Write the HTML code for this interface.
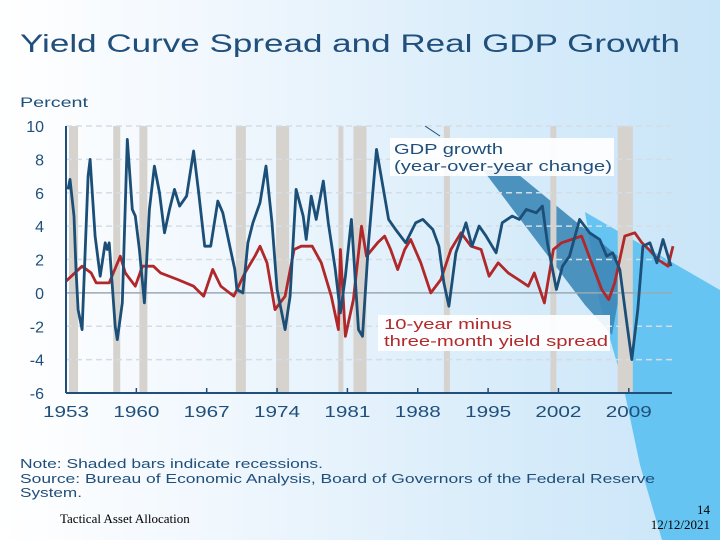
<!DOCTYPE html>
<html><head><meta charset="utf-8">
<style>
html,body{margin:0;padding:0}
body{width:720px;height:540px;overflow:hidden;background:linear-gradient(90deg,#ffffff 0%,#eef6fd 35%,#d8ecfa 70%,#c9e5f8 100%);font-family:"Liberation Sans",sans-serif;position:relative}
svg{position:absolute;left:0;top:0}
</style></head>
<body>
<svg id="chart" width="720" height="540">
  <polygon points="585,212 720,290 720,540 662,540 640,465 622,380 600,305" fill="#66c4f2"/>
  <polygon points="483,170 513,170 625,262 612,335 585,305" fill="#3d88b8" opacity="0.9"/>
  <text x="20" y="52" font-size="25" fill="#1f4f7a" textLength="660" lengthAdjust="spacingAndGlyphs">Yield Curve Spread and Real GDP Growth</text>
  <text x="20" y="107" font-size="14" fill="#1f4f7a" textLength="68" lengthAdjust="spacingAndGlyphs">Percent</text>
  <g id="rec"></g><g id="grid"></g><g id="lines"></g><g id="axes"></g>
  <rect x="390" y="138" width="224" height="38" fill="#fff" opacity="0.9"/>
  <text x="394" y="154" font-size="15" fill="#1f4f7a" textLength="109" lengthAdjust="spacingAndGlyphs">GDP growth</text>
  <text x="394" y="171" font-size="15" fill="#1f4f7a" textLength="218" lengthAdjust="spacingAndGlyphs">(year-over-year change)</text>
  <line x1="425" y1="126" x2="440" y2="136" stroke="#1f4f7a"/>
  <rect x="378" y="315" width="232" height="36" fill="#fff" opacity="0.9"/>
  <text x="384" y="329" font-size="15" fill="#b22a2a" textLength="128" lengthAdjust="spacingAndGlyphs">10-year minus</text>
  <text x="384" y="346" font-size="15" fill="#b22a2a" textLength="224" lengthAdjust="spacingAndGlyphs">three-month yield spread</text>
  <text x="20" y="468" font-size="12.5" fill="#1f4f7a" textLength="303" lengthAdjust="spacingAndGlyphs">Note: Shaded bars indicate recessions.</text>
  <text x="20" y="483" font-size="12.5" fill="#1f4f7a" textLength="635" lengthAdjust="spacingAndGlyphs">Source: Bureau of Economic Analysis, Board of Governors of the Federal Reserve</text>
  <text x="20" y="497" font-size="12.5" fill="#1f4f7a" textLength="62" lengthAdjust="spacingAndGlyphs">System.</text>
  <text x="60" y="523" font-size="13" font-family="Liberation Serif" fill="#000">Tactical Asset Allocation</text>
  <text x="710" y="514" font-size="13" font-family="Liberation Serif" fill="#000" text-anchor="end">14</text>
  <text x="710" y="529" font-size="13" font-family="Liberation Serif" fill="#000" text-anchor="end">12/12/2021</text>
</svg>
<script>
const yTicks=[10,8,6,4,2,0,-2,-4,-6];
const xTicks=[1953,1960,1967,1974,1981,1988,1995,2002,2009];
const recStart=[1953.3,1957.7,1960.3,1969.9,1973.9,1980.1,1981.6,1990.6,2001.2,2007.9];
const recEnd=[1954.2,1958.4,1961.1,1970.9,1975.2,1980.6,1982.9,1991.2,2001.8,2009.4];
const gdpYears=[1953.2,1953.4,1953.8,1954.0,1954.2,1954.6,1955.2,1955.4,1955.9,1956.4,1956.9,1957.1,1957.3,1957.9,1958.1,1958.6,1959.1,1959.6,1959.9,1960.3,1960.8,1961.3,1961.8,1962.3,1962.8,1963.3,1963.8,1964.3,1965.0,1965.7,1966.2,1966.8,1967.4,1968.1,1968.6,1969.3,1969.8,1970.0,1970.6,1971.1,1971.6,1972.3,1972.9,1973.5,1974.0,1974.8,1975.3,1975.9,1976.6,1976.9,1977.4,1977.9,1978.6,1979.1,1979.8,1980.3,1980.8,1981.4,1982.1,1982.5,1983.1,1983.9,1985.1,1985.8,1986.8,1987.8,1988.5,1989.5,1990.1,1990.6,1991.1,1991.8,1992.8,1993.4,1994.1,1994.8,1995.8,1996.4,1997.4,1998.1,1998.8,1999.8,2000.4,2000.9,2001.8,2002.4,2003.1,2004.1,2005.1,2006.1,2006.8,2007.4,2008.1,2008.8,2009.3,2009.9,2010.4,2011.1,2011.8,2012.4,2013.2];
const gdpValues=[6.2,6.8,4.6,1.4,-1.0,-2.2,7.0,8.0,3.4,1.0,3.0,2.6,3.0,-2.0,-2.8,-0.6,9.2,5.0,4.6,2.6,-0.6,5.0,7.6,6.0,3.6,5.0,6.2,5.2,5.8,8.5,6.0,2.8,2.8,5.5,4.8,2.8,1.4,0.2,0.0,3.0,4.2,5.4,7.6,4.2,0.2,-2.2,-0.2,6.2,4.6,3.2,5.8,4.4,6.7,4.2,1.4,-1.2,1.0,4.4,-2.2,-2.6,3.0,8.6,4.4,3.8,3.0,4.2,4.4,3.8,2.8,0.6,-0.8,2.4,4.2,2.8,4.0,3.4,2.4,4.2,4.6,4.4,5.0,4.8,5.2,3.0,0.2,1.6,2.2,4.4,3.6,3.2,2.2,2.4,1.4,-1.8,-4.0,-1.0,2.8,3.0,1.8,3.2,1.6];
const spreadYears=[1953.0,1954.6,1955.5,1956.0,1957.3,1958.4,1958.9,1959.9,1960.6,1961.7,1962.4,1964.1,1965.7,1966.7,1967.6,1968.4,1969.7,1970.8,1971.8,1972.3,1973.0,1973.8,1974.8,1975.7,1976.4,1977.5,1978.4,1979.4,1980.1,1980.3,1980.8,1981.6,1982.4,1982.9,1984.0,1984.7,1985.3,1986.0,1986.7,1987.3,1988.3,1989.3,1990.3,1991.3,1992.3,1993.3,1994.3,1995.1,1996.0,1997.0,1998.0,1999.0,1999.6,2000.6,2001.5,2002.3,2003.3,2004.3,2005.3,2006.3,2007.0,2007.6,2008.6,2009.6,2010.3,2011.0,2011.9,2012.9,2013.4];
const spreadValues=[0.7,1.6,1.2,0.6,0.6,2.2,1.2,0.4,1.6,1.6,1.2,0.8,0.4,-0.2,1.4,0.4,-0.2,1.2,2.2,2.8,1.8,-1.0,-0.2,2.6,2.8,2.8,1.8,-0.2,-2.2,2.6,-2.6,-0.4,4.0,2.2,3.0,3.4,2.6,1.4,2.6,3.2,1.8,0.0,0.8,2.6,3.6,2.8,2.6,1.0,1.8,1.2,0.8,0.4,1.2,-0.6,2.6,3.0,3.2,3.4,1.8,0.2,-0.4,0.6,3.4,3.6,3.0,2.6,2.0,1.6,2.8];
const NS='http://www.w3.org/2000/svg';
const X0=66,X1=672,Y0=126,Y1=393;
function xs(yr){return X0+(yr-1953)*10.05;}
function ys(v){return Y0+(10-v)*(Y1-Y0)/16;}
function mk(tag,attrs,parent){const e=document.createElementNS(NS,tag);for(const k in attrs)e.setAttribute(k,attrs[k]);parent.appendChild(e);return e;}
const rec=document.getElementById('rec'),grid=document.getElementById('grid'),lines=document.getElementById('lines'),axes=document.getElementById('axes');
recStart.forEach((s,i)=>{
  const r=mk('rect',{x:xs(s),y:Y0,width:Math.max(3,xs(recEnd[i])-xs(s)),height:Y1-Y0,fill:'#d6d3cf'},rec);
  
  
});
yTicks.forEach(v=>{
  if(v!==-6&&v!==0){
    const g=mk('line',{x1:X0,x2:X1,y1:ys(v),y2:ys(v),stroke:'#d4dde6','stroke-width':1.5,'stroke-dasharray':'6,4'},grid);
    
    
  }
  const t=mk('text',{x:44,y:ys(v)+6,'font-size':16,fill:'#1f4f7a','text-anchor':'end'},axes);
  t.textContent=v;
  
  
});
const z=mk('line',{x1:X0,x2:X1,y1:ys(0),y2:ys(0),stroke:'#9aa9b6','stroke-width':1.5},grid);


function path(xv,yv,color,name){
  const d=xv.map((x,i)=>(i?'L':'M')+xs(x).toFixed(1)+','+ys(yv[i]).toFixed(1)).join(' ');
  const p=mk('path',{d:d,fill:'none',stroke:color,'stroke-width':2.8,'stroke-linejoin':'round'},lines);
  
  
}
path(spreadYears,spreadValues,'#b0282a','spread-line');
path(gdpYears,gdpValues,'#1b4f78','gdp-line');
const ax=mk('line',{x1:X0,x2:X1,y1:Y1,y2:Y1,stroke:'#1f4f7a','stroke-width':2},axes);


const ay=mk('line',{x1:X0,x2:X0,y1:Y0,y2:Y1,stroke:'#1f4f7a','stroke-width':2},axes);


xTicks.forEach(yr=>{
  const tk=mk('line',{x1:xs(yr),x2:xs(yr),y1:Y1-5,y2:Y1,stroke:'#1f4f7a','stroke-width':1.5},axes);
  
  
  const t=mk('text',{x:xs(yr)-23,y:417,'font-size':16,fill:'#1f4f7a',textLength:46,lengthAdjust:'spacingAndGlyphs'},axes);
  t.textContent=yr;
  
  
});
</script>
</body></html>
